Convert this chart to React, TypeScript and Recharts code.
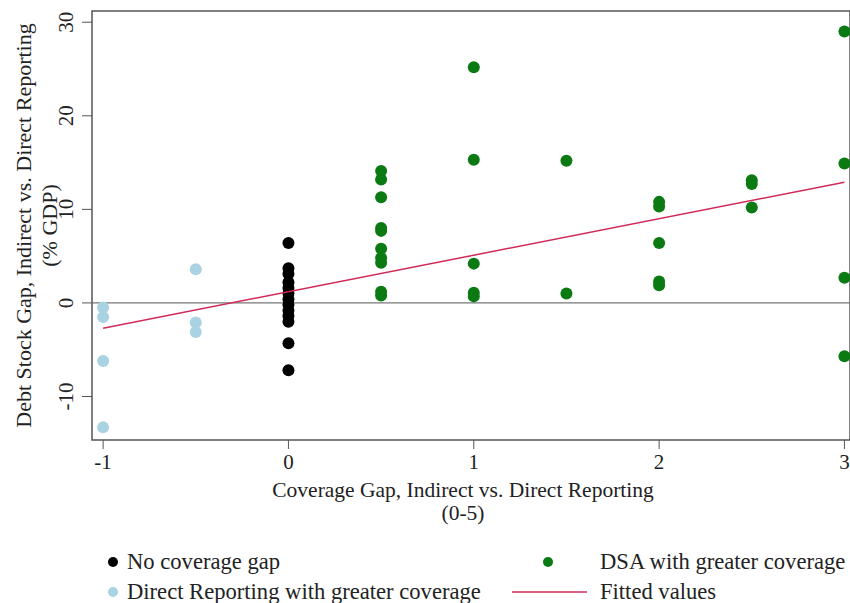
import React from 'react';
import { ScatterChart, Scatter, XAxis, YAxis, ReferenceLine, ReferenceArea } from 'recharts';

// Coverage gap (x) and debt stock gap (y) per group
const noGapX = [0, 0, 0, 0, 0, 0, 0, 0, 0, 0, 0, 0, 0];
const noGapY = [6.4, 3.7, 3.1, 2.2, 1.6, 1.0, 0.4, -0.2, -0.8, -1.4, -2.0, -4.3, -7.2];

const directX = [-1, -1, -1, -1, -0.5, -0.5, -0.5];
const directY = [-0.5, -1.5, -6.2, -13.3, 3.6, -2.1, -3.1];

const dsaX = [
  0.5, 0.5, 0.5, 0.5, 0.5, 0.5, 0.5, 0.5, 0.5, 0.5,
  1, 1, 1, 1, 1,
  1.5, 1.5,
  2, 2, 2, 2, 2,
  2.5, 2.5, 2.5,
  3, 3, 3, 3,
];
const dsaY = [
  14.1, 13.2, 11.3, 8.0, 7.7, 5.8, 4.8, 4.3, 1.2, 0.8,
  25.2, 15.3, 4.2, 1.1, 0.7,
  15.2, 1.0,
  10.8, 10.3, 6.4, 2.3, 1.9,
  13.1, 12.7, 10.2,
  29.0, 14.9, 2.7, -5.7,
];

const fitX = [-1, 3];
const fitY = [-2.7, 12.9];

const xTicks = [-1, 0, 1, 2, 3];
const yTicks = [-10, 0, 10, 20, 30];

const X_DOMAIN: [number, number] = [-1.06, 3.03];
const Y_DOMAIN: [number, number] = [-14.65, 31.2];

const FONT = '"Liberation Serif", "Times New Roman", serif';
const BLACK = '#000000';
const LIGHT_BLUE = '#a9d3e3';
const GREEN = '#0b7a12';
const FIT = '#d22a58';

const zip = (xs: number[], ys: number[]) => xs.map((x, i) => ({ x, y: ys[i] }));

const noGapData = zip(noGapX, noGapY);
const directData = zip(directX, directY);
const dsaData = zip(dsaX, dsaY);
const fitData = zip(fitX, fitY);

const dot = (color: string) => (props: any) => (
  <circle cx={props.cx} cy={props.cy} r={6} fill={color} />
);

const YTick = (props: any) => {
  const { y, payload } = props;
  const bx = 73;
  return (
    <text x={bx} y={y} transform={`rotate(-90, ${bx}, ${y})`} textAnchor="middle"
      fontFamily={FONT} fontSize={21} fill="#222">
      {payload.value}
    </text>
  );
};

const XTick = (props: any) => {
  const { x, y, payload } = props;
  return (
    <text x={x} y={y + 18} textAnchor="middle" fontFamily={FONT} fontSize={21} fill="#222">
      {payload.value}
    </text>
  );
};

const XTitle = (props: any) => {
  const vb = props.viewBox || {};
  const cx = (vb.x || 0) + (vb.width || 0) / 2 - 8;
  const top = vb.y || 0;
  return (
    <g fontFamily={FONT} fontSize={21.5} fill="#222">
      <text x={cx} y={top + 57} textAnchor="middle">Coverage Gap, Indirect vs. Direct Reporting</text>
      <text x={cx} y={top + 80} textAnchor="middle">(0-5)</text>
    </g>
  );
};

const YTitle = (props: any) => {
  const vb = props.viewBox || {};
  const cy = (vb.y || 0) + (vb.height || 0) / 2;
  return (
    <g fontFamily={FONT} fontSize={22} fill="#222">
      <text x={31} y={cy} transform={`rotate(-90, 31, ${cy})`} textAnchor="middle">
        Debt Stock Gap, Indirect vs. Direct Reporting
      </text>
      <text x={57} y={cy} transform={`rotate(-90, 57, ${cy})`} textAnchor="middle">
        (% GDP)
      </text>
    </g>
  );
};

const LegendBox: React.FC = () => (
  <svg width={850} height={63} style={{ position: 'absolute', left: 0, top: 540 }}>
    <g fontFamily={FONT} fontSize={22.6} fill="#222">
      <circle cx={113} cy={22} r={5} fill={BLACK} />
      <text x={127} y={29}>No coverage gap</text>
      <circle cx={113} cy={52} r={5} fill={LIGHT_BLUE} />
      <text x={127} y={59}>Direct Reporting with greater coverage</text>
      <circle cx={548} cy={22} r={5} fill={GREEN} />
      <text x={600} y={29}>DSA with greater coverage</text>
      <line x1={512} y1={52} x2={587} y2={52} stroke={FIT} strokeWidth={1.5} />
      <text x={600} y={59}>Fitted values</text>
    </g>
  </svg>
);

export default function App() {
  return (
    <div style={{ position: 'absolute', left: 0, top: 0, width: 850, height: 603, background: '#fff' }}>
      <ScatterChart width={850} height={603} margin={{ top: 11, right: 0, bottom: 0, left: 0 }}>
        <XAxis type="number" dataKey="x" domain={X_DOMAIN} ticks={xTicks} allowDataOverflow
          height={163} axisLine={false} tickLine={{ stroke: '#555' }} tickSize={9}
          tick={<XTick />} label={{ content: <XTitle /> }} />
        <YAxis type="number" dataKey="y" domain={Y_DOMAIN} ticks={yTicks} allowDataOverflow
          width={92} axisLine={false} tickLine={{ stroke: '#555' }} tickSize={10}
          tick={<YTick />} label={{ content: <YTitle /> }} />
        <ReferenceArea x1={X_DOMAIN[0]} x2={X_DOMAIN[1]} y1={Y_DOMAIN[0]} y2={Y_DOMAIN[1]}
          fill="none" stroke="#555" strokeWidth={1.5} fillOpacity={0} />
        <ReferenceLine y={0} stroke="#777" strokeWidth={1.3} />
        <Scatter data={directData} fill={LIGHT_BLUE} shape={dot(LIGHT_BLUE)} isAnimationActive={false} />
        <Scatter data={noGapData} fill={BLACK} shape={dot(BLACK)} isAnimationActive={false} />
        <Scatter data={dsaData} fill={GREEN} shape={dot(GREEN)} isAnimationActive={false} />
        <Scatter data={fitData} line={{ stroke: FIT, strokeWidth: 1.5 }} shape={() => <g />}
          isAnimationActive={false} />
      </ScatterChart>
      <LegendBox />
    </div>
  );
}
